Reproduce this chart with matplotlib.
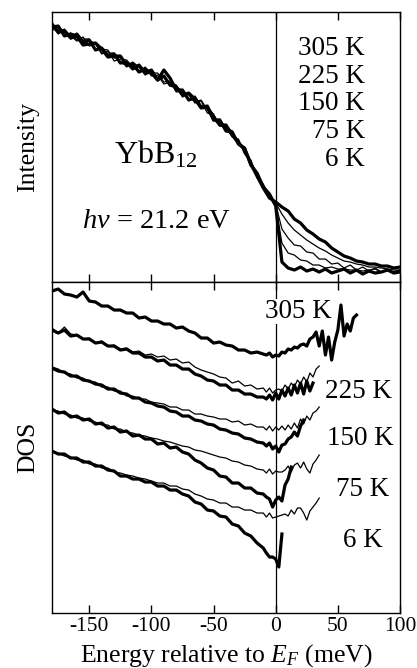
import numpy as np
import matplotlib
matplotlib.use('Agg')
import matplotlib.pyplot as plt

plt.rcParams['font.family'] = ['Liberation Serif', 'DejaVu Serif']
plt.rcParams['mathtext.fontset'] = 'custom'
plt.rcParams['mathtext.rm'] = 'Liberation Serif'
plt.rcParams['mathtext.it'] = 'Liberation Serif:italic'
plt.rcParams['mathtext.bf'] = 'Liberation Serif:bold'
plt.rcParams['axes.unicode_minus'] = False

# ---------------- data ----------------
# Top panel: photoemission intensity (arb. units), energy grid every 5 meV
E_top = np.arange(-180, 101, 5)
int_6K = [2.58, 2.50, 2.51, 2.44, 2.48, 2.40, 2.42, 2.32, 2.34, 2.26, 2.28, 2.19, 2.20, 2.13, 2.17,
          2.09, 2.12, 2.02, 2.12, 2.04, 1.92, 1.92, 1.82, 1.84, 1.75, 1.76, 1.62, 1.62, 1.51, 1.50,
          1.38, 1.34, 1.17, 1.09, 0.95, 0.88, 0.76, 0.20, 0.14, 0.12, 0.15, 0.11, 0.13, 0.10, 0.13,
          0.09, 0.11, 0.13, 0.09, 0.12, 0.08, 0.11, 0.09, 0.10, 0.12, 0.09, 0.10]
int_75K = [2.53, 2.55, 2.46, 2.49, 2.42, 2.45, 2.36, 2.38, 2.28, 2.31, 2.24, 2.25, 2.15, 2.19, 2.11,
           2.15, 2.06, 2.07, 1.98, 2.00, 1.97, 1.85, 1.88, 1.79, 1.81, 1.69, 1.67, 1.57, 1.56, 1.45,
           1.43, 1.29, 1.22, 1.05, 0.98, 0.85, 0.76, 0.39, 0.29, 0.27, 0.22, 0.21, 0.17, 0.17, 0.14,
           0.15, 0.13, 0.13, 0.12, 0.12, 0.11, 0.12, 0.13, 0.10, 0.12, 0.10, 0.12]
int_150K = [2.56, 2.48, 2.53, 2.46, 2.41, 2.43, 2.43, 2.33, 2.33, 2.32, 2.21, 2.23, 2.22, 2.15, 2.15,
            2.07, 2.11, 2.04, 2.05, 1.96, 1.96, 1.90, 1.83, 1.86, 1.76, 1.74, 1.68, 1.56, 1.55, 1.51,
            1.37, 1.32, 1.21, 1.04, 0.97, 0.86, 0.78, 0.53, 0.44, 0.37, 0.36, 0.30, 0.29, 0.23, 0.23,
            0.18, 0.19, 0.14, 0.17, 0.12, 0.15, 0.11, 0.14, 0.10, 0.13, 0.10, 0.12]
int_225K = [2.52, 2.53, 2.52, 2.43, 2.45, 2.38, 2.41, 2.39, 2.29, 2.29, 2.29, 2.20, 2.16, 2.20, 2.15,
            2.08, 2.09, 2.09, 2.00, 2.01, 1.90, 1.91, 1.87, 1.80, 1.82, 1.72, 1.61, 1.63, 1.53, 1.46,
            1.42, 1.28, 1.20, 1.08, 0.94, 0.86, 0.79, 0.68, 0.59, 0.52, 0.47, 0.42, 0.38, 0.34, 0.31,
            0.27, 0.24, 0.21, 0.20, 0.18, 0.17, 0.15, 0.15, 0.14, 0.13, 0.12, 0.12]
int_305K = [2.55, 2.56, 2.46, 2.48, 2.46, 2.37, 2.38, 2.39, 2.33, 2.25, 2.26, 2.26, 2.17, 2.18, 2.10,
            2.13, 2.09, 2.02, 2.06, 1.97, 1.95, 1.87, 1.89, 1.83, 1.74, 1.75, 1.65, 1.57, 1.57, 1.47,
            1.39, 1.33, 1.18, 1.06, 0.94, 0.84, 0.80, 0.75, 0.71, 0.63, 0.59, 0.52, 0.48, 0.43, 0.40,
            0.34, 0.30, 0.26, 0.24, 0.21, 0.20, 0.18, 0.18, 0.16, 0.16, 0.14, 0.15]

# Bottom panel: DOS (arb. units, curves offset), energy grid 5 meV then 2.5 meV near E_F
E_dos = np.concatenate([np.arange(-180, -10, 5), np.arange(-10, 66, 2.5)])
dos_305K = [3.22, 3.24, 3.19, 3.18, 3.16, 3.21, 3.12, 3.11, 3.07, 3.07, 3.03, 3.03, 3.00, 3.00, 2.95,
            2.96, 2.92, 2.92, 2.89, 2.89, 2.85, 2.86, 2.82, 2.80, 2.75, 2.75, 2.70, 2.71, 2.68, 2.67,
            2.63, 2.63, 2.60, 2.61,
            2.59, 2.58, 2.60, 2.56, 2.58, 2.57, 2.61, 2.60, 2.64, 2.63, 2.66, 2.65, 2.68, 2.69, 2.67,
            2.74, 2.76, 2.81, 2.67, 2.82, 2.58, 2.76, 2.53, 2.71, 2.83, 3.08, 2.77, 2.89, 2.82, 2.95, 2.98]
dos_225K = [2.83, 2.80, 2.83, 2.77, 2.78, 2.74, 2.74, 2.70, 2.71, 2.67, 2.67, 2.63, 2.64, 2.60, 2.60,
            2.56, 2.56, 2.52, 2.53, 2.48, 2.48, 2.44, 2.44, 2.39, 2.37, 2.33, 2.32, 2.28, 2.28, 2.23,
            2.23, 2.19, 2.19, 2.16,
            2.16, 2.14, 2.18, 2.13, 2.20, 2.14, 2.23, 2.17, 2.25, 2.18, 2.28, 2.20, 2.30, 2.19, 2.32,
            2.22, 2.30]
dos_225K_ref = [2.85, 2.80, 2.86, 2.79, 2.78, 2.74, 2.75, 2.70, 2.72, 2.67, 2.68, 2.64, 2.65, 2.61, 2.62,
                2.58, 2.59, 2.56, 2.57, 2.53, 2.54, 2.50, 2.51, 2.46, 2.43, 2.41, 2.39, 2.36, 2.35, 2.30,
                2.32, 2.27, 2.28, 2.24,
                2.25, 2.21, 2.25, 2.20, 2.23, 2.24, 2.22, 2.28, 2.24, 2.30, 2.26, 2.33, 2.29, 2.36, 2.31,
                2.40, 2.36, 2.44, 2.47]
dos_150K = [2.45, 2.42, 2.41, 2.37, 2.37, 2.33, 2.32, 2.29, 2.28, 2.24, 2.24, 2.20, 2.19, 2.15, 2.15,
            2.11, 2.10, 2.07, 2.06, 2.02, 2.01, 1.97, 1.97, 1.93, 1.92, 1.89, 1.88, 1.84, 1.83, 1.80,
            1.79, 1.75, 1.74, 1.71,
            1.70, 1.67, 1.70, 1.64, 1.67, 1.61, 1.68, 1.69, 1.74, 1.76, 1.81, 1.77, 1.87, 1.93]
dos_150K_ref = [2.46, 2.44, 2.40, 2.39, 2.35, 2.35, 2.31, 2.31, 2.26, 2.26, 2.22, 2.22, 2.17, 2.17, 2.14,
                2.14, 2.11, 2.10, 2.09, 2.06, 2.06, 2.03, 2.03, 1.99, 1.99, 1.97, 1.96, 1.94, 1.94, 1.91,
                1.92, 1.88, 1.89, 1.86,
                1.86, 1.83, 1.87, 1.82, 1.86, 1.83, 1.87, 1.83, 1.88, 1.84, 1.90, 1.85, 1.94, 1.89, 1.97,
                1.93, 2.00, 2.02, 2.06]
dos_75K = [2.04, 2.00, 2.01, 1.96, 1.97, 1.93, 1.94, 1.89, 1.90, 1.85, 1.86, 1.81, 1.82, 1.77, 1.78,
           1.74, 1.74, 1.69, 1.70, 1.65, 1.66, 1.61, 1.59, 1.53, 1.50, 1.45, 1.43, 1.37, 1.36, 1.30,
           1.30, 1.25, 1.25, 1.20,
           1.19, 1.16, 1.14, 1.06, 1.13, 1.16, 1.12, 1.28, 1.34, 1.46]
dos_75K_ref = [2.03, 2.02, 1.99, 1.98, 1.95, 1.95, 1.92, 1.91, 1.88, 1.88, 1.84, 1.84, 1.81, 1.80, 1.78,
               1.77, 1.75, 1.74, 1.72, 1.71, 1.69, 1.67, 1.66, 1.63, 1.62, 1.60, 1.58, 1.56, 1.55, 1.52,
               1.51, 1.48, 1.47, 1.44,
               1.43, 1.40, 1.44, 1.39, 1.42, 1.41, 1.41, 1.43, 1.47, 1.41, 1.48, 1.50, 1.45, 1.51, 1.44,
               1.40, 1.49, 1.53, 1.58]
dos_6K = [1.62, 1.59, 1.59, 1.55, 1.55, 1.51, 1.51, 1.47, 1.47, 1.43, 1.42, 1.37, 1.37, 1.34, 1.34,
          1.31, 1.31, 1.27, 1.27, 1.23, 1.23, 1.19, 1.17, 1.11, 1.09, 1.03, 1.02, 0.97, 0.96, 0.89,
          0.87, 0.80, 0.77, 0.70,
          0.65, 0.60, 0.56, 0.56, 0.54, 0.46, 0.79]
dos_6K_ref = [1.61, 1.60, 1.57, 1.56, 1.53, 1.53, 1.49, 1.49, 1.45, 1.45, 1.41, 1.40, 1.38, 1.37, 1.35,
              1.34, 1.32, 1.30, 1.30, 1.27, 1.27, 1.24, 1.23, 1.19, 1.17, 1.14, 1.13, 1.10, 1.10, 1.06,
              1.06, 1.03, 1.03, 1.00,
              1.00, 0.96, 1.00, 0.95, 0.96, 0.97, 0.98, 0.99, 0.97, 1.03, 0.99, 1.05, 1.05, 1.00, 0.93,
              1.02, 1.06, 1.10, 1.15]

temp_labels = ['305 K', '225 K', '150 K', '75 K', '6 K']
x_ticks = [-150, -100, -50, 0, 50, 100]

# ---------------- figure ----------------
fig = plt.figure(figsize=(4.17, 6.68), dpi=100)
ax1 = fig.add_axes([0.1247, 0.5778, 0.8345, 0.4042])
ax2 = fig.add_axes([0.1247, 0.0823, 0.8345, 0.4955])

THICK = 2.3
THIN = 0.9

for ax in (ax1, ax2):
    ax.set_xlim(-180, 100)
    ax.set_xticks(x_ticks)
    ax.set_yticks([])
    ax.tick_params(axis='x', direction='in', top=True, bottom=True, length=6, width=1.0,
                   labelsize=15.5, pad=3)
    for sp in ax.spines.values():
        sp.set_linewidth(1.0)
    ax.axvline(0, color='black', lw=0.9, zorder=1)

# top panel
ax1.set_ylim(0, 2.70)
ax1.tick_params(labelbottom=False)
ax1.plot(E_top, int_75K, color='black', lw=THIN, zorder=3)
ax1.plot(E_top, int_150K, color='black', lw=THIN, zorder=3)
ax1.plot(E_top, int_225K, color='black', lw=THIN, zorder=3)
ax1.plot(E_top, int_6K, color='black', lw=THICK, zorder=4)
ax1.plot(E_top, int_305K, color='black', lw=THICK, zorder=4)
for lab, yb in zip(temp_labels, [2.27, 1.99, 1.72, 1.44, 1.16]):
    ax1.text(72, yb, lab, ha='right', va='baseline', fontsize=19.5)
ax1.text(-130, 1.19, r'YbB$_{12}$', ha='left', va='baseline', fontsize=23)
ax1.text(-156, 0.54, r'$h\nu$ = 21.2 eV', ha='left', va='baseline', fontsize=20.5)
ax1.set_ylabel('Intensity', fontsize=18.5, labelpad=9)

# bottom panel
ax2.set_ylim(0, 3.31)
refs = [dos_225K_ref, dos_150K_ref, dos_75K_ref, dos_6K_ref]
for r in refs:
    ax2.plot(E_dos[:len(r)], r, color='black', lw=THIN, zorder=3)
for d in [dos_305K, dos_225K, dos_150K, dos_75K, dos_6K]:
    ax2.plot(E_dos[:len(d)], d, color='black', lw=THICK, zorder=4)
ax2.text(18.5, 2.95, temp_labels[0], ha='center', va='baseline', fontsize=19.5, zorder=2,
         bbox=dict(facecolor='white', edgecolor='none', pad=0))
for lab, xc, yb in zip(temp_labels[1:], [67, 68, 70, 70], [2.15, 1.68, 1.17, 0.66]):
    ax2.text(xc, yb, lab, ha='center', va='baseline', fontsize=19.5)
ax2.set_ylabel('DOS', fontsize=18.5, labelpad=9)
ax2.set_xlabel(r'Energy relative to $E_F$ (meV)', fontsize=18.5, labelpad=4)

fig.savefig('out.png', dpi=100)
